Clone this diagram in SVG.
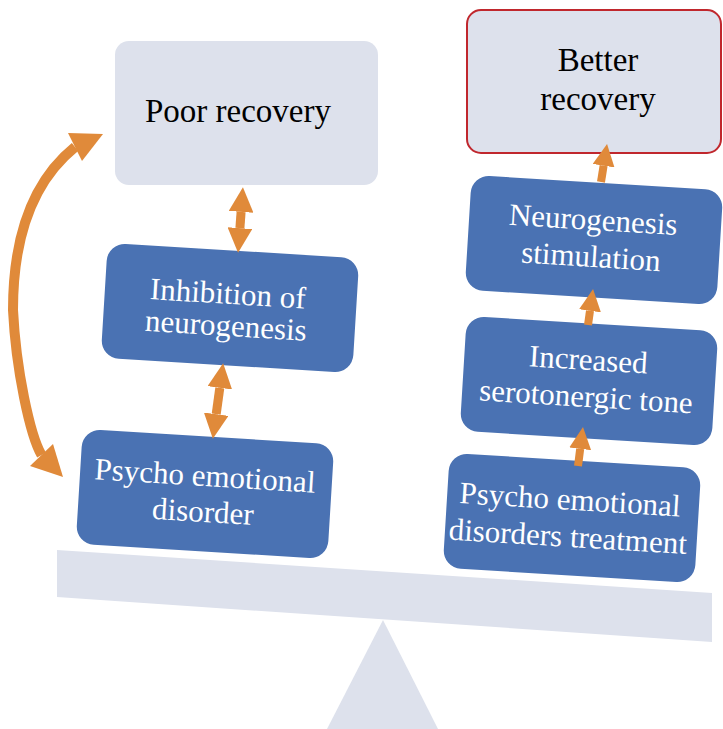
<svg xmlns="http://www.w3.org/2000/svg" width="723" height="729" viewBox="0 0 723 729">
<defs>
<style>
.light{fill:#dde1ec;}
.blue{fill:#4a72b3;}
.out{fill:#dde1ec;stroke:#c0272d;stroke-width:2;}
.wt{font-family:"Liberation Serif","Times New Roman",serif;font-size:31px;fill:#ffffff;text-anchor:middle;}
.bt{font-family:"Liberation Serif","Times New Roman",serif;font-size:33px;fill:#000000;text-anchor:middle;}
.arr{stroke:#e08a3a;fill:none;stroke-linecap:butt;}
.head{fill:#e08a3a;}
</style>
<marker id="ah" viewBox="0 0 10 10" refX="0" refY="5" markerWidth="2.75" markerHeight="2.75" orient="auto-start-reverse" preserveAspectRatio="none">
<path d="M0,0 L10,5 L0,10 Z" fill="#e08a3a"/>
</marker>
</defs>
<rect width="723" height="729" fill="#ffffff"/>
<g id="scale">
<polygon class="light" points="383,620 327,729 438,729"/>
<polygon class="light" points="57,550 712,593 712,642 57,597"/>
</g>
<g id="poor-recovery">
<rect class="light" x="115" y="41" width="263" height="144" rx="14"/>
<text class="bt" x="238" y="122">Poor recovery</text>
</g>
<g id="better-recovery">
<rect class="out" x="467" y="10" width="254" height="143" rx="14"/>
<text class="bt" x="598" y="71">Better</text>
<text class="bt" x="598" y="110">recovery</text>
</g>
<g id="inhibition" transform="rotate(3.5 230 308)">
<rect class="blue" x="104" y="250.5" width="252" height="115" rx="18"/>
<text class="wt" x="227" y="304">Inhibition of</text>
<text class="wt" x="227" y="336">neurogenesis</text>
</g>
<g id="psycho-disorder" transform="rotate(3.5 205 494)">
<rect class="blue" x="79" y="436.5" width="252" height="115" rx="18"/>
<text class="wt" x="204" y="486">Psycho emotional</text>
<text class="wt" x="204" y="522">disorder</text>
</g>
<g id="neuro-stim" transform="rotate(3.5 594 240)">
<rect class="blue" x="468" y="182.5" width="252" height="115" rx="18"/>
<text class="wt" x="592" y="230">Neurogenesis</text>
<text class="wt" x="592" y="267">stimulation</text>
</g>
<g id="serotonergic" transform="rotate(3.5 589 381)">
<rect class="blue" x="463" y="323.5" width="252" height="115" rx="18"/>
<text class="wt" x="587" y="370">Increased</text>
<text class="wt" x="587" y="407">serotonergic tone</text>
</g>
<g id="treatment" transform="rotate(3.5 572 518)">
<rect class="blue" x="446" y="460.5" width="252" height="115" rx="18"/>
<text class="wt" x="569" y="510">Psycho emotional</text>
<text class="wt" x="569" y="547">disorders treatment</text>
</g>
<g id="connectors">
<path class="arr" stroke-width="10" d="M41.5,455 C30,435 16,370 13,310 C13,245 28,185 75,147"/>
<polygon class="head" points="103,134 68,133 82,161"/>
<polygon class="head" points="63,477 30,466 53,444"/>
<line class="arr" stroke-width="9" x1="241.1" y1="211.9" x2="239.9" y2="228.1" marker-start="url(#ah)" marker-end="url(#ah)"/>
<line class="arr" stroke-width="9" x1="219.8" y1="387.8" x2="216.2" y2="414.2" marker-start="url(#ah)" marker-end="url(#ah)"/>
<line class="arr" stroke-width="8" x1="601" y1="182" x2="603.6" y2="165.7" marker-end="url(#ah)"/>
<line class="arr" stroke-width="8" x1="588" y1="325" x2="590" y2="310.8" marker-end="url(#ah)"/>
<line class="arr" stroke-width="8" x1="578" y1="466" x2="580.2" y2="448.8" marker-end="url(#ah)"/>
</g>
</svg>
